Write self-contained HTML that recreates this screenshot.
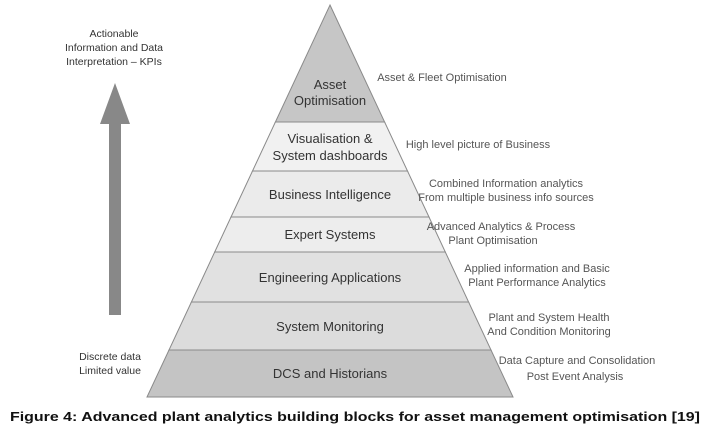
<!DOCTYPE html>
<html><head><meta charset="utf-8"><style>
body{margin:0;background:#fff;width:718px;height:432px;overflow:hidden}
svg{display:block}
text{font-family:"Liberation Sans",sans-serif}
</style></head><body>
<svg width="718" height="432" viewBox="0 0 718 432">
<g stroke="#8a8a8a" stroke-width="1">
<polygon points="330,5 384.6,122 275.4,122" fill="#c6c6c6"/>
<polygon points="275.4,122 384.6,122 407.5,171 252.5,171" fill="#f1f1f1"/>
<polygon points="252.5,171 407.5,171 429,217 231,217" fill="#ebebeb"/>
<polygon points="231,217 429,217 445.3,252 214.7,252" fill="#ededed"/>
<polygon points="214.7,252 445.3,252 468.6,302 191.4,302" fill="#e1e1e1"/>
<polygon points="191.4,302 468.6,302 491,350 169,350" fill="#dcdcdc"/>
<polygon points="169,350 491,350 513,397 147,397" fill="#c4c4c4"/>
</g>
<g font-size="13" fill="#333" text-anchor="middle">
<text x="330" y="89">Asset</text>
<text x="330" y="105">Optimisation</text>
<text x="330" y="143">Visualisation &amp;</text>
<text x="330" y="160">System dashboards</text>
<text x="330" y="199">Business Intelligence</text>
<text x="330" y="239">Expert Systems</text>
<text x="330" y="282">Engineering Applications</text>
<text x="330" y="331">System Monitoring</text>
<text x="330" y="378">DCS and Historians</text>
</g>
<g font-size="11" fill="#555" text-anchor="middle">
<text x="442" y="81">Asset &amp; Fleet Optimisation</text>
<text x="478" y="148">High level picture of Business</text>
<text x="506" y="187">Combined Information analytics</text>
<text x="506" y="201">From multiple business info sources</text>
<text x="501" y="230">Advanced Analytics &amp; Process</text>
<text x="493" y="244">Plant Optimisation</text>
<text x="537" y="272">Applied information and Basic</text>
<text x="537" y="286">Plant Performance Analytics</text>
<text x="549" y="321">Plant and System Health</text>
<text x="549" y="335">And Condition Monitoring</text>
<text x="577" y="364">Data Capture and Consolidation</text>
<text x="575" y="380">Post Event Analysis</text>
</g>
<g font-size="10.5" fill="#333" text-anchor="middle">
<text x="114" y="37">Actionable</text>
<text x="114" y="51">Information and Data</text>
<text x="114" y="65">Interpretation – KPIs</text>
<text x="110" y="360">Discrete data</text>
<text x="110" y="374">Limited value</text>
</g>
<polygon points="115,83 130,124 121,124 121,315 109,315 109,124 100,124" fill="#888"/>
<text x="355" y="421" font-size="13" font-weight="bold" fill="#111" text-anchor="middle" font-family="'DejaVu Sans',sans-serif" textLength="690" lengthAdjust="spacingAndGlyphs">Figure 4: Advanced plant analytics building blocks for asset management optimisation [19]</text>
</svg>
</body></html>
